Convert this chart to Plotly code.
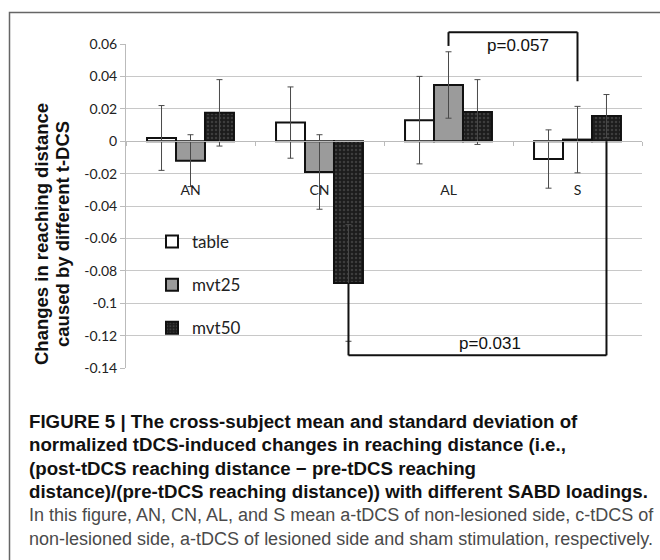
import plotly.graph_objects as go

categories = ["AN", "CN", "AL", "S"]
series_names = ["table", "mvt25", "mvt50"]
table_vals = [0.002, 0.0115, 0.013, -0.011]
table_err = [0.020, 0.022, 0.027, 0.018]
mvt25_vals = [-0.012, -0.019, 0.0347, 0.001]
mvt25_err = [0.016, 0.023, 0.0205, 0.0205]
mvt50_vals = [0.0175, -0.0875, 0.018, 0.0155]
mvt50_err = [0.0205, 0.036, 0.020, 0.0133]
y_ticks = [0.06, 0.04, 0.02, 0, -0.02, -0.04, -0.06, -0.08, -0.1, -0.12, -0.14]
y_ticktext = ["0.06", "0.04", "0.02", "0", "-0.02", "-0.04", "-0.06", "-0.08", "-0.1", "-0.12", "-0.14"]
y_title = ["Changes in reaching distance", "caused by different t-DCS"]
caption_bold = [
    "FIGURE 5 | The cross-subject mean and standard deviation of",
    "normalized tDCS-induced changes in reaching distance (i.e.,",
    "(post-tDCS reaching distance \u2212 pre-tDCS reaching",
    "distance)/(pre-tDCS reaching distance)) with different SABD loadings.",
]
caption_regular = [
    "In this figure, AN, CN, AL, and S mean a-tDCS of non-lesioned side, c-tDCS of",
    "non-lesioned side, a-tDCS of lesioned side and sham stimulation, respectively.",
]

W, H = 660, 560
L, R, T, B = 126, 18, 44, 192
PW, PH = W - L - R, H - T - B
ymin, ymax = min(y_ticks), max(y_ticks)


def px(xp):
    return (xp - L) / PW


def py(yp):
    return (H - B - yp) / PH


def dy(v):
    return (v - ymin) / (ymax - ymin)


bargap = 0.326
off = (1 - bargap) / 3

fig = go.Figure()
styles = [
    dict(color="white"),
    dict(color="#9b9b9b"),
    dict(color="#1c1c1c", pattern=dict(shape=".", fgcolor="#5e5e5e", bgcolor="#1c1c1c", size=4, solidity=0.3)),
]
for i, (name, vals, errs) in enumerate(zip(series_names, [table_vals, mvt25_vals, mvt50_vals],
                                           [table_err, mvt25_err, mvt50_err])):
    fig.add_trace(go.Bar(
        x=categories, y=vals, name=name, legendgroup=name,
        marker=dict(line=dict(color="#111", width=2), **styles[i]),
        error_y=dict(type="data", array=errs, visible=True, color="#4a4a4a", thickness=1, width=3),
    ))

shapes = []
# outer frame
shapes.append(dict(type="rect", xref="paper", yref="paper", x0=px(9.5), x1=px(680), y0=py(580), y1=py(12.5),
                   line=dict(color="#666", width=1.5), fillcolor="rgba(0,0,0,0)"))
# top bracket (AL mvt25 -> S mvt25)
xa, xb = 2, 3
top, lb, rb = 0.0673, 0.0588, 0.037
for x0, y0, x1, y1 in [(xa, lb, xa, top), (xa, top, xb, top), (xb, top, xb, rb)]:
    shapes.append(dict(type="line", xref="x", yref="paper", x0=x0, x1=x1, y0=dy(y0), y1=dy(y1),
                       line=dict(color="#111", width=2)))
# bottom bracket (CN mvt50 -> S mvt50)
xc, xd = 1 + off, 3 + off
bot = -0.1322
for x0, y0, x1, y1 in [(xc, mvt50_vals[1], xc, bot), (xc, bot, xd, bot), (xd, bot, xd, 0)]:
    shapes.append(dict(type="line", xref="x", yref="y", x0=x0, x1=x1, y0=y0, y1=y1,
                       line=dict(color="#111", width=2)))

annotations = []
annotations.append(dict(text="p=0.057", x=2.54, y=dy(0.059), xref="x", yref="paper", showarrow=False,
                        font=dict(family="Liberation Sans, Arial", size=17, color="#111"), yanchor="middle"))
annotations.append(dict(text="p=0.031", x=2.32, y=bot, xref="x", yref="y", showarrow=False, yshift=12,
                        font=dict(family="Liberation Sans, Arial", size=17, color="#111"), yanchor="middle"))
for xx, line in zip([42, 63], y_title):
    annotations.append(dict(text="<b>%s</b>" % line, x=px(xx), y=py(234), xref="paper", yref="paper",
                            showarrow=False, textangle=-90,
                            font=dict(family="Liberation Sans, Arial", size=18.5, color="#111"),
                            xanchor="center", yanchor="middle"))
cap_y = [421, 444.5, 468, 491.5, 515, 538.5]
for i, line in enumerate(caption_bold + caption_regular):
    bold = i < len(caption_bold)
    annotations.append(dict(text=("<b>%s</b>" % line) if bold else line, x=px(27), y=py(cap_y[i]),
                            xref="paper", yref="paper", showarrow=False, xanchor="left", yanchor="middle",
                            font=dict(family="Liberation Sans, Arial", size=18.7 if bold else 18,
                                      color="#111" if bold else "#4a4a4a")))

fig.update_layout(
    width=W, height=H, margin=dict(l=L, r=R, t=T, b=B),
    paper_bgcolor="white", plot_bgcolor="white",
    barmode="group", bargap=bargap, bargroupgap=0,
    shapes=shapes, annotations=annotations,
    legend=dict(x=px(152), y=py(224), xanchor="left", yanchor="top", bgcolor="rgba(0,0,0,0)",
                font=dict(family="Lato, Carlito, sans-serif", size=17, color="#222"),
                tracegroupgap=18, itemwidth=30, traceorder="grouped"),
    showlegend=True,
)
fig.update_yaxes(range=[ymin, ymax], tickvals=y_ticks, ticktext=y_ticktext, showgrid=True,
                 gridcolor="#c8c8c8", gridwidth=1.3, zeroline=False, showline=True, linecolor="#bbb",
                 linewidth=1, ticks="outside", ticklen=5, tickcolor="#bbb",
                 tickfont=dict(family="Lato, Carlito, sans-serif", size=14, color="#222"))
fig.update_xaxes(anchor="free", position=dy(0), showline=True, linecolor="#bbb", linewidth=1,
                 ticks="outside", ticklen=4, tickcolor="#bbb", tickson="boundaries", showgrid=False,
                 ticklabelstandoff=36, tickfont=dict(family="Lato, Carlito, sans-serif", size=14, color="#222"))

fig.write_html("out.html")
